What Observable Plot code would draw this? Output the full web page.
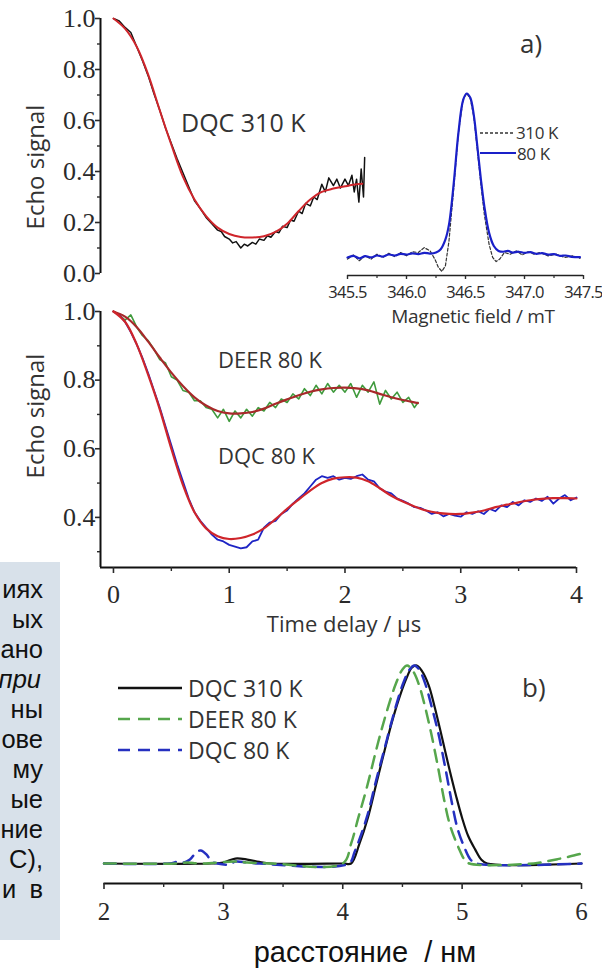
<!DOCTYPE html>
<html><head><meta charset="utf-8">
<script src="https://cdn.jsdelivr.net/npm/d3@7"></script>
<script src="https://cdn.jsdelivr.net/npm/@observablehq/plot@0.6"></script>
<style>
body{margin:0;background:#fff;}
#page{position:relative;width:602px;height:973px;overflow:hidden;background:#fff;}
</style></head>
<body><div id="page"></div>
<script>
// ---------- scales / ticks ----------
const timeDomain = [-0.112, 4.0];
const topYTicks = [0, 0.2, 0.4, 0.6, 0.8, 1.0];
const topYMinor = [0.1, 0.3, 0.5, 0.7, 0.9];
const midYMin = 0.254;
const midYTicks = [0.4, 0.6, 0.8, 1.0];
const midYMinor = [0.3, 0.5, 0.7, 0.9];
const timeTicks = [0, 1, 2, 3, 4];
const timeMinor = [0.5, 1.5, 2.5, 3.5];
const fieldDomain = [345.5, 347.5];
const fieldTicks = [345.5, 346.0, 346.5, 347.0, 347.5];
const fieldMinor = [345.75, 346.25, 346.75, 347.25];
const insetYMin = -0.11;
const distDomain = [2, 6];
const distTicks = [2, 3, 4, 5, 6];
const distMinor = [2.5, 3.5, 4.5, 5.5];
const distYMin = -0.101;

// ---------- data: (a) top, DQC 310 K ----------
const dqc310Data = [[0,1.0],[0.05,0.99],[0.1,0.965],[0.15,0.945],[0.2,0.89],[0.25,0.835],[0.3,0.775],[0.35,0.705],[0.4,0.64],[0.45,0.57],
[0.5,0.51],[0.55,0.45],[0.6,0.395],[0.65,0.34],[0.7,0.285],[0.75,0.255],[0.8,0.22],[0.85,0.195],[0.9,0.17],[0.93,0.165],
[0.96,0.145],[1.0,0.135],[1.03,0.12],[1.06,0.125],[1.1,0.1],[1.13,0.115],[1.16,0.108],[1.2,0.122],[1.23,0.115],[1.26,0.135],
[1.3,0.13],[1.33,0.148],[1.36,0.142],[1.4,0.165],[1.43,0.16],[1.46,0.185],[1.5,0.18],[1.53,0.21],[1.56,0.205],[1.6,0.245],
[1.63,0.235],[1.66,0.275],[1.7,0.265],[1.73,0.3],[1.76,0.29],[1.8,0.35],[1.83,0.32],[1.86,0.375],[1.9,0.345],[1.93,0.37],
[1.96,0.335],[2.0,0.37],[2.03,0.345],[2.06,0.385],[2.08,0.32],[2.1,0.37],[2.12,0.28],[2.14,0.41],[2.16,0.3],[2.17,0.455]];
const dqc310Fit = [[0,1.0],[0.1,0.96],[0.2,0.89],[0.3,0.78],[0.4,0.64],[0.5,0.505],[0.6,0.38],[0.7,0.29],[0.8,0.225],[0.9,0.18],
[1.0,0.155],[1.1,0.143],[1.2,0.141],[1.3,0.146],[1.4,0.163],[1.5,0.195],[1.6,0.245],[1.7,0.29],[1.8,0.32],[1.9,0.333],
[2.0,0.342],[2.1,0.35],[2.15,0.352]];

// ---------- data: (a) middle, DEER 80 K and DQC 80 K ----------
const deer80Data = [[0,1.0],[0.05,0.99],[0.1,0.975],[0.15,0.99],[0.2,0.955],[0.25,0.93],[0.3,0.915],[0.35,0.89],[0.4,0.86],[0.45,0.85],
[0.5,0.81],[0.55,0.8],[0.6,0.77],[0.65,0.765],[0.7,0.74],[0.75,0.74],[0.8,0.72],[0.85,0.715],[0.9,0.69],[0.95,0.715],
[1.0,0.68],[1.05,0.71],[1.1,0.69],[1.15,0.715],[1.2,0.695],[1.25,0.72],[1.3,0.71],[1.35,0.735],[1.4,0.72],[1.45,0.745],
[1.5,0.735],[1.55,0.76],[1.6,0.745],[1.65,0.775],[1.7,0.755],[1.75,0.785],[1.8,0.76],[1.85,0.79],[1.9,0.765],[1.95,0.785],
[2.0,0.765],[2.05,0.79],[2.1,0.75],[2.15,0.785],[2.2,0.765],[2.25,0.795],[2.3,0.73],[2.35,0.77],[2.4,0.745],[2.45,0.765],
[2.5,0.735],[2.55,0.75],[2.6,0.72],[2.63,0.735]];
const deer80Fit = [[0,1.0],[0.1,0.985],[0.2,0.955],[0.3,0.912],[0.4,0.866],[0.5,0.822],[0.6,0.783],[0.7,0.75],[0.8,0.726],[0.9,0.71],
[1.0,0.703],[1.1,0.703],[1.2,0.707],[1.3,0.717],[1.4,0.731],[1.5,0.744],[1.6,0.756],[1.7,0.766],[1.8,0.773],[1.9,0.777],
[2.0,0.778],[2.1,0.776],[2.2,0.77],[2.3,0.76],[2.4,0.75],[2.5,0.742],[2.63,0.733]];
const dqc80Data = [[0,1.0],[0.05,0.99],[0.1,0.97],[0.15,0.94],[0.2,0.905],[0.25,0.865],[0.3,0.82],[0.35,0.77],[0.4,0.72],[0.45,0.665],
[0.5,0.61],[0.55,0.555],[0.6,0.505],[0.65,0.455],[0.7,0.415],[0.75,0.39],[0.8,0.37],[0.85,0.35],[0.9,0.335],[0.95,0.33],
[1.0,0.32],[1.05,0.315],[1.1,0.31],[1.15,0.313],[1.2,0.33],[1.25,0.335],[1.3,0.37],[1.35,0.385],[1.4,0.39],[1.45,0.41],
[1.5,0.42],[1.55,0.44],[1.6,0.455],[1.65,0.47],[1.7,0.49],[1.75,0.51],[1.8,0.52],[1.85,0.515],[1.9,0.52],[1.95,0.51],
[2.0,0.515],[2.05,0.512],[2.1,0.52],[2.15,0.525],[2.2,0.51],[2.25,0.505],[2.3,0.485],[2.35,0.475],[2.4,0.47],[2.45,0.455],
[2.5,0.448],[2.55,0.44],[2.6,0.43],[2.65,0.428],[2.7,0.42],[2.75,0.41],[2.8,0.415],[2.85,0.403],[2.9,0.41],[2.95,0.405],
[3.0,0.402],[3.05,0.415],[3.1,0.41],[3.15,0.418],[3.2,0.41],[3.25,0.425],[3.3,0.418],[3.35,0.435],[3.4,0.43],[3.45,0.445],
[3.5,0.435],[3.55,0.45],[3.6,0.445],[3.65,0.455],[3.7,0.448],[3.75,0.46],[3.8,0.44],[3.85,0.455],[3.9,0.465],[3.95,0.45],[4.0,0.458]];
const dqc80Fit = [[0,1.0],[0.1,0.97],[0.2,0.905],[0.3,0.815],[0.4,0.715],[0.5,0.6],[0.6,0.495],[0.7,0.415],[0.8,0.368],[0.9,0.345],
[1.0,0.337],[1.1,0.34],[1.2,0.35],[1.3,0.368],[1.4,0.395],[1.5,0.425],[1.6,0.452],[1.7,0.478],[1.8,0.5],[1.9,0.513],
[2.0,0.517],[2.1,0.516],[2.2,0.505],[2.3,0.485],[2.4,0.463],[2.5,0.446],[2.6,0.432],[2.7,0.42],[2.8,0.413],[2.9,0.41],
[3.0,0.41],[3.1,0.414],[3.2,0.42],[3.3,0.43],[3.4,0.437],[3.5,0.444],[3.6,0.45],[3.7,0.454],[3.8,0.456],[3.9,0.456],[4.0,0.455]];

// ---------- data: inset field-swept spectra ----------
const field80 = [[345.5,0.0],[345.55,0.01],[345.6,-0.005],[345.65,0.008],[345.7,0.0],[345.75,0.012],[345.8,0.005],[345.85,0.018],[345.9,0.012],[345.95,0.022],
[346.0,0.018],[346.05,0.025],[346.1,0.02],[346.15,0.028],[346.2,0.024],[346.25,0.03],[346.29,0.05],[346.33,0.11],[346.36,0.2],[346.4,0.45],
[346.44,0.76],[346.48,0.96],[346.51,1.0],[346.54,0.975],[346.57,0.87],[346.6,0.68],[346.63,0.48],[346.66,0.31],[346.7,0.15],[346.74,0.07],
[346.78,0.04],[346.82,0.035],[346.86,0.04],[346.9,0.03],[346.95,0.035],[347.0,0.028],[347.05,0.032],[347.1,0.022],[347.15,0.026],[347.2,0.018],
[347.25,0.02],[347.3,0.01],[347.35,0.012],[347.4,0.004],[347.47,0.002]];
const field310 = [[345.5,-0.01],[345.55,0.015],[345.6,-0.02],[345.65,0.01],[345.7,-0.01],[345.75,0.02],[345.8,0.0],[345.85,0.025],[345.9,0.005],[345.95,0.03],
[346.0,0.01],[346.05,0.035],[346.1,0.03],[346.15,0.06],[346.2,0.04],[346.24,-0.01],[346.27,-0.06],[346.3,-0.085],[346.33,-0.05],[346.36,0.1],
[346.4,0.42],[346.44,0.76],[346.48,0.965],[346.51,1.0],[346.54,0.97],[346.57,0.86],[346.6,0.66],[346.63,0.45],[346.66,0.26],[346.7,0.08],
[346.73,0.0],[346.76,-0.025],[346.79,-0.01],[346.83,0.03],[346.88,0.02],[346.93,0.04],[346.98,0.015],[347.03,0.035],[347.08,0.02],[347.13,0.03],
[347.2,0.01],[347.27,0.02],[347.34,0.0],[347.41,0.01],[347.47,-0.005]];

// ---------- data: (b) distance distributions ----------
const distDqc310 = [[2.0,0],[2.9,0],[3.0,0.005],[3.1,0.025],[3.2,0.02],[3.3,0.008],[3.4,0],[4.0,0],[4.07,0],[4.14,0.1],
[4.21,0.23],[4.28,0.4],[4.35,0.57],[4.41,0.71],[4.47,0.83],[4.53,0.93],[4.58,0.99],[4.62,1.0],[4.66,0.975],[4.72,0.9],
[4.77,0.79],[4.83,0.64],[4.89,0.485],[4.95,0.34],[5.0,0.23],[5.05,0.14],[5.11,0.07],[5.16,0.02],[5.21,0],[6.0,0]];
const distDqc80 = [[2.0,0],[2.55,0],[2.62,0.01],[2.67,0.005],[2.72,0.02],[2.77,0.055],[2.81,0.066],[2.86,0.045],[2.9,0.01],[2.95,0],
[3.05,-0.005],[3.1,0.01],[3.2,0.005],[3.3,0],[4.05,0],[4.1,0.06],[4.2,0.23],[4.28,0.42],[4.35,0.58],[4.42,0.74],
[4.5,0.9],[4.56,0.98],[4.6,1.0],[4.64,0.98],[4.69,0.91],[4.75,0.78],[4.8,0.66],[4.86,0.48],[4.91,0.32],[4.96,0.18],
[5.02,0.08],[5.07,0.02],[5.12,0],[6.0,0]];
const distDeer80 = [[2.0,0],[2.6,0],[2.7,0.005],[2.8,0],[3.1,0.01],[3.2,0.005],[3.4,0],[4.0,0],[4.07,0.1],[4.13,0.23],
[4.2,0.38],[4.3,0.62],[4.37,0.77],[4.44,0.9],[4.5,0.98],[4.54,1.0],[4.59,0.97],[4.64,0.9],[4.69,0.79],[4.74,0.66],
[4.8,0.48],[4.85,0.32],[4.9,0.19],[4.97,0.08],[5.02,0.02],[5.06,0],[5.6,0],[5.7,0.01],[5.8,0.022],[5.9,0.035],[6.0,0.05]];

// ---------- text ----------
const boxLines = ["иях","ых","ано","при","ны","ове","му","ые","ние","С),","и в"];
const legendA = ["310 K","80 K"];
const legendB = ["DQC 310 K","DEER 80 K","DQC 80 K"];

// ---------- rendering ----------
const page = document.getElementById("page");
const W = 602, H = 973;
const serif = "'Liberation Serif', 'Tinos', 'Times New Roman', 'Nimbus Roman', 'FreeSerif', 'Noto Serif', 'DejaVu Serif', serif";
const sans = "'Open Sans', sans-serif";
const base = {width: W, height: H};
const plainStyle = {background: "transparent", color: "#2a2a2a", overflow: "visible"};
const X = d => d[0], Y = d => d[1];
function place(node, family, spacing){
  node.style.position = "absolute"; node.style.left = "0px"; node.style.top = "0px";
  node.querySelectorAll("text").forEach(t => {
    t.style.fontFamily = family;
    t.setAttribute("font-family", family);
    if (spacing) t.style.letterSpacing = spacing;
  });
  page.appendChild(node);
}
const fit = "#cf252b";

// top panel
place(Plot.plot({...base, style: plainStyle,
  marginLeft: 100, marginRight: 26, marginTop: 18, marginBottom: H - 273,
  x: {domain: timeDomain, axis: null}, y: {domain: [0, 1], axis: null},
  marks: [
    Plot.ruleX([timeDomain[0]], {stroke: "#111", strokeWidth: 2}),
    Plot.axisY({ticks: topYTicks, tickSize: 5, tickPadding: 0, tickFormat: d3.format(".1f"), fontSize: 26, strokeWidth: 1.6, label: null}),
    Plot.axisY({ticks: topYMinor, tickSize: 3, tickFormat: () => "", strokeWidth: 1.4, label: null}),
    Plot.line(dqc310Data, {x: X, y: Y, stroke: "#111", strokeWidth: 1.5}),
    Plot.line(dqc310Fit, {x: X, y: Y, stroke: fit, strokeWidth: 2, curve: "catmull-rom"})
  ]}), serif);

// middle panel
place(Plot.plot({...base, style: plainStyle,
  marginLeft: 100, marginRight: 26, marginTop: 311, marginBottom: H - 567,
  x: {domain: timeDomain, axis: null}, y: {domain: [midYMin, 1], axis: null},
  marks: [
    Plot.ruleX([timeDomain[0]], {stroke: "#111", strokeWidth: 2}),
    Plot.ruleY([midYMin], {stroke: "#111", strokeWidth: 2}),
    Plot.axisY({ticks: midYTicks, tickSize: 5, tickPadding: 0, tickFormat: d3.format(".1f"), fontSize: 26, strokeWidth: 1.6, label: null}),
    Plot.axisY({ticks: midYMinor, tickSize: 3, tickFormat: () => "", strokeWidth: 1.4, label: null}),
    Plot.axisX({ticks: timeTicks, tickSize: 6, tickPadding: 11, tickFormat: d3.format("d"), fontSize: 26, strokeWidth: 1.6, label: null}),
    Plot.axisX({ticks: timeMinor, tickSize: 4, tickFormat: () => "", strokeWidth: 1.4, label: null}),
    Plot.line(deer80Data, {x: X, y: Y, stroke: "#3f9a3c", strokeWidth: 1.6}),
    Plot.line(dqc80Data, {x: X, y: Y, stroke: "#1d24c4", strokeWidth: 1.8}),
    Plot.line(deer80Fit, {x: X, y: Y, stroke: "#a8292a", strokeWidth: 2.2, curve: "catmull-rom"}),
    Plot.line(dqc80Fit, {x: X, y: Y, stroke: fit, strokeWidth: 2.2, curve: "catmull-rom"})
  ]}), serif);

// inset
place(Plot.plot({...base, style: plainStyle,
  marginLeft: 347, marginRight: 19, marginTop: 93, marginBottom: H - 275,
  x: {domain: fieldDomain, axis: null}, y: {domain: [insetYMin, 1], axis: null},
  marks: [
    Plot.ruleY([insetYMin], {stroke: "#222", strokeWidth: 1.6}),
    Plot.axisX({ticks: fieldTicks, tickSize: 4, tickPadding: 7, tickFormat: d3.format(".1f"), fontSize: 16.5, strokeWidth: 1.4, label: null}),
    Plot.axisX({ticks: fieldMinor, tickSize: 3, tickFormat: () => "", strokeWidth: 1.2, label: null}),
    Plot.line(field310, {x: X, y: Y, stroke: "#333", strokeWidth: 1.2, strokeDasharray: "3,2"}),
    Plot.line(field80, {x: X, y: Y, stroke: "#1a20c8", strokeWidth: 2.2, curve: "catmull-rom"})
  ]}), sans, "-0.7px");

// bottom panel (b)
place(Plot.plot({...base, style: plainStyle,
  marginLeft: 103.5, marginRight: 21, marginTop: 665, marginBottom: H - 883,
  x: {domain: distDomain, axis: null}, y: {domain: [distYMin, 1], axis: null},
  marks: [
    Plot.ruleY([distYMin], {stroke: "#111", strokeWidth: 2}),
    Plot.axisX({ticks: distTicks, tickSize: 6, tickPadding: 13, tickFormat: d3.format("d"), fontSize: 25, strokeWidth: 1.6, label: null}),
    Plot.axisX({ticks: distMinor, tickSize: 4, tickFormat: () => "", strokeWidth: 1.4, label: null}),
    Plot.line(distDqc310, {x: X, y: Y, stroke: "#111", strokeWidth: 2.2, curve: "catmull-rom"}),
    Plot.line(distDqc80, {x: X, y: Y, stroke: "#2530c0", strokeWidth: 2.5, strokeDasharray: "12,8", curve: "catmull-rom"}),
    Plot.line(distDeer80, {x: X, y: Y, stroke: "#56a64c", strokeWidth: 2.5, strokeDasharray: "12,8", curve: "catmull-rom"})
  ]}), serif);

// overlay: labels, legends, text box
const ov = d3.create("svg").attr("width", W).attr("height", H)
  .style("position", "absolute").style("left", "0px").style("top", "0px");
function txt(s, x, y, opts = {}) {
  return ov.append("text").attr("x", x).attr("y", y).text(s)
    .attr("font-family", opts.family || sans).attr("font-size", opts.size || 22)
    .attr("fill", opts.fill || "#333").attr("text-anchor", opts.anchor || "start")
    .attr("font-style", opts.style || "normal");
}
// text box on the left
ov.append("rect").attr("x", 0).attr("y", 562).attr("width", 60).attr("height", 378).attr("fill", "#d8e1ea");
boxLines.forEach((s, i) => {
  const it = s === "при";
  const t = txt(s, it ? 41 : 43, 598 + 30 * i, {family: "'Liberation Sans', Arial, sans-serif", size: 25.5, fill: "#111", anchor: "end", style: it ? "italic" : "normal"});
  if (s === "и в") t.attr("word-spacing", 6);
});
// y-axis titles
[167, 416].forEach(cy => {
  ov.append("text").attr("transform", `translate(44,${cy}) rotate(-90)`).attr("text-anchor", "middle")
    .attr("font-family", sans).attr("font-size", 24).attr("fill", "#333").text("Echo signal");
});
txt("DQC 310 K", 181, 132, {size: 25});
txt("a)", 520, 53, {size: 26});
txt("DEER 80 K", 218, 368, {size: 22});
txt("DQC 80 K", 218, 464, {size: 22});
txt("Time delay / µs", 344, 632, {size: 22, anchor: "middle"});
txt("Magnetic field / mT", 473, 323, {size: 19, anchor: "middle"}).attr("letter-spacing", "-0.3");
txt("b)", 522, 697, {size: 26});
txt("расстояние  / нм", 365, 962, {family: "'Liberation Sans', Arial, sans-serif", size: 29, fill: "#111", anchor: "middle"}).style("white-space", "pre");
// inset legend
ov.append("line").attr("x1", 480).attr("x2", 514).attr("y1", 133).attr("y2", 133).attr("stroke", "#333").attr("stroke-width", 1.4).attr("stroke-dasharray", "3,2");
ov.append("line").attr("x1", 480).attr("x2", 516).attr("y1", 153).attr("y2", 153).attr("stroke", "#1a20c8").attr("stroke-width", 2.2);
txt(legendA[0], 516, 139, {size: 17}).attr("letter-spacing", "-0.4");
txt(legendA[1], 517, 160, {size: 17}).attr("letter-spacing", "-0.4");
// (b) legend
const legStyles = [["#111", null], ["#56a64c", "12,8"], ["#2530c0", "12,8"]];
[688, 719, 750].forEach((ly, i) => {
  const l = ov.append("line").attr("x1", 118).attr("x2", 182).attr("y1", ly).attr("y2", ly)
    .attr("stroke", legStyles[i][0]).attr("stroke-width", 2.5);
  if (legStyles[i][1]) l.attr("stroke-dasharray", legStyles[i][1]);
  txt(legendB[i], 188, ly + 9, {size: 23});
});
page.appendChild(ov.node());
</script></body></html>
